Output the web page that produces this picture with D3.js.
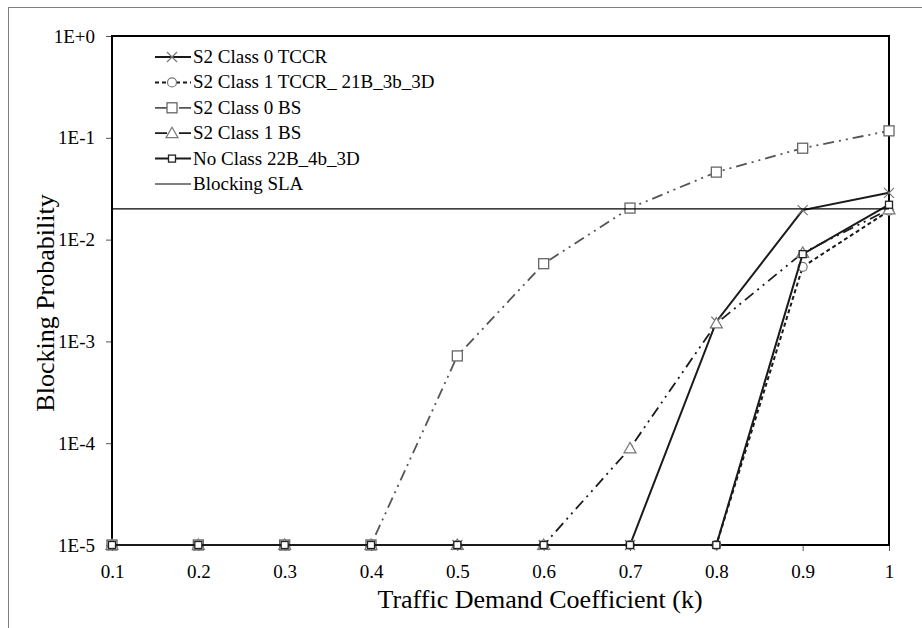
<!DOCTYPE html>
<html>
<head>
<meta charset="utf-8">
<script src="https://cdn.jsdelivr.net/npm/d3@7"></script>
<style>
  body { margin: 0; background: #fff; }
  svg { display: block; font-family: "Liberation Serif", "Times New Roman", serif; }
</style>
</head>
<body>
<div id="chart"></div>
<script>
// data
const kValues = [0.1, 0.2, 0.3, 0.4, 0.5, 0.6, 0.7, 0.8, 0.9, 1.0];
const s2Class0TCCR = [1e-5, 1e-5, 1e-5, 1e-5, 1e-5, 1e-5, 1e-5, 1.56e-3, 0.0195, 0.0288];
const s2Class1TCCR = [1e-5, 1e-5, 1e-5, 1e-5, 1e-5, 1e-5, 1e-5, 1e-5, 5.4e-3, 0.0192];
const s2Class0BS = [1e-5, 1e-5, 1e-5, 1e-5, 7.2e-4, 5.8e-3, 0.0204, 0.046, 0.079, 0.117];
const s2Class1BS = [1e-5, 1e-5, 1e-5, 1e-5, 1e-5, 1e-5, 8.9e-5, 1.5e-3, 7.4e-3, 0.0198];
const noClass = [1e-5, 1e-5, 1e-5, 1e-5, 1e-5, 1e-5, 1e-5, 1e-5, 7.2e-3, 0.022];
const blockingSLA = 0.02;
const yTicks = [1, 1e-1, 1e-2, 1e-3, 1e-4, 1e-5];
const yTickLabels = ["1E+0", "1E-1", "1E-2", "1E-3", "1E-4", "1E-5"];
const xTicks = [0.1, 0.2, 0.3, 0.4, 0.5, 0.6, 0.7, 0.8, 0.9, 1];
const xTickLabels = ["0.1", "0.2", "0.3", "0.4", "0.5", "0.6", "0.7", "0.8", "0.9", "1"];

const seriesNames = ["S2 Class 0 TCCR", "S2 Class 1 TCCR_ 21B_3b_3D", "S2 Class 0  BS", "S2 Class 1 BS", "No Class 22B_4b_3D"];

// drawing styles per series
const series = [
  { name: seriesNames[0], values: s2Class0TCCR, stroke: "#1a1a1a", width: 2, dash: null, marker: "x" },
  { name: seriesNames[1], values: s2Class1TCCR, stroke: "#1a1a1a", width: 2, dash: "4,3", marker: "circle" },
  { name: seriesNames[2], values: s2Class0BS, stroke: "#555", width: 1.8, dash: "11,5,2,5,2,5", marker: "bigsquare" },
  { name: seriesNames[3], values: s2Class1BS, stroke: "#1a1a1a", width: 1.8, dash: "11,5,2,5,2,5", marker: "triangle" },
  { name: seriesNames[4], values: noClass, stroke: "#1a1a1a", width: 2, dash: null, marker: "square" }
];

const W = 922, H = 628;
const margin = { top: 36, right: 33, bottom: 83, left: 112 };
const width = W - margin.left - margin.right;
const height = H - margin.top - margin.bottom;

const svg = d3.select("#chart").append("svg")
  .attr("width", W)
  .attr("height", H);

// outer chart frame
svg.append("rect")
  .attr("x", 8.5).attr("y", 7.5)
  .attr("width", 930).attr("height", 640)
  .attr("fill", "none")
  .attr("stroke", "#7f7f7f")
  .attr("stroke-width", 1);

const g = svg.append("g")
  .attr("transform", `translate(${margin.left},${margin.top})`);

const x = d3.scaleLinear().domain([0.1, 1]).range([0, width]);
const y = d3.scaleLog().domain([1e-5, 1]).range([height, 0]);

// axes
const yAxis = g.append("g")
  .call(d3.axisLeft(y).tickValues(yTicks).tickSize(6).tickPadding(11)
    .tickFormat((d, i) => yTickLabels[i]));
yAxis.select(".domain").remove();
yAxis.selectAll(".tick line").attr("stroke", "#555").attr("stroke-width", 1);
yAxis.selectAll(".tick text")
  .style("font-family", "Liberation Serif")
  .style("font-size", "19px")
  .attr("fill", "#000");

const xAxis = g.append("g")
  .attr("transform", `translate(0,${height})`)
  .call(d3.axisBottom(x).tickValues(xTicks).tickSize(6).tickPadding(14)
    .tickFormat((d, i) => xTickLabels[i]));
xAxis.select(".domain").remove();
xAxis.selectAll(".tick line").attr("stroke", "#555").attr("stroke-width", 1);
xAxis.selectAll(".tick text")
  .style("font-family", "Liberation Serif")
  .style("font-size", "19px")
  .attr("fill", "#000");

// plot frame
g.append("rect")
  .attr("width", width).attr("height", height)
  .attr("fill", "none")
  .attr("stroke", "#000")
  .attr("stroke-width", 2);

// axis titles
svg.append("text")
  .attr("x", 540)
  .attr("y", 608)
  .attr("text-anchor", "middle")
  .style("font-size", "26px")
  .text("Traffic Demand Coefficient (k)");

svg.append("text")
  .attr("transform", "translate(54,303) rotate(-90)")
  .attr("text-anchor", "middle")
  .style("font-size", "26px")
  .text("Blocking Probability");

const line = d3.line()
  .x((d, i) => x(kValues[i]))
  .y(d => y(d));

function drawMarker(sel, type, cx, cy) {
  if (type === "x") {
    sel.append("path")
      .attr("d", `M${cx - 5},${cy - 5}L${cx + 5},${cy + 5}M${cx - 5},${cy + 5}L${cx + 5},${cy - 5}`)
      .attr("stroke", "#777").attr("stroke-width", 1.2).attr("fill", "none");
  } else if (type === "circle") {
    sel.append("circle")
      .attr("cx", cx).attr("cy", cy).attr("r", 4.5)
      .attr("fill", "#fff").attr("stroke", "#777").attr("stroke-width", 1.2);
  } else if (type === "bigsquare") {
    sel.append("rect")
      .attr("x", cx - 5).attr("y", cy - 5).attr("width", 10).attr("height", 10)
      .attr("fill", "#fff").attr("stroke", "#666").attr("stroke-width", 1.3);
  } else if (type === "triangle") {
    sel.append("path")
      .attr("d", `M${cx},${cy - 6}L${cx + 6},${cy + 4.5}L${cx - 6},${cy + 4.5}Z`)
      .attr("fill", "#fff").attr("stroke", "#777").attr("stroke-width", 1.2);
  } else if (type === "square") {
    sel.append("rect")
      .attr("x", cx - 3.5).attr("y", cy - 3.5).attr("width", 7).attr("height", 7)
      .attr("fill", "#fff").attr("stroke", "#222").attr("stroke-width", 1.3);
  }
}

// series lines and markers
series.forEach(s => {
  const sg = g.append("g");
  sg.append("path")
    .datum(s.values)
    .attr("d", line)
    .attr("fill", "none")
    .attr("stroke", s.stroke)
    .attr("stroke-width", s.width)
    .attr("stroke-dasharray", s.dash);
  s.values.forEach((v, i) => drawMarker(sg, s.marker, x(kValues[i]), y(v)));
});

// Blocking SLA line
g.append("line")
  .attr("x1", 0).attr("x2", width)
  .attr("y1", y(blockingSLA)).attr("y2", y(blockingSLA))
  .attr("stroke", "#000")
  .attr("stroke-width", 1.2);

// legend
const legendItems = series.concat([{ name: "Blocking SLA", stroke: "#000", width: 1.2, dash: null, marker: null }]);
const legend = svg.append("g").attr("transform", "translate(155,57)");
legendItems.forEach((s, i) => {
  const row = legend.append("g").attr("transform", `translate(0,${i * 25.4})`);
  row.append("line")
    .attr("x1", 0).attr("x2", 36)
    .attr("stroke", s.stroke)
    .attr("stroke-width", s.width)
    .attr("stroke-dasharray", s.dash ? (s.marker === "circle" ? "4,3" : "12,5,2,5") : null);
  if (s.marker) drawMarker(row, s.marker, 17, 0);
  row.append("text")
    .attr("x", 38).attr("y", 6)
    .style("font-size", "19px")
    .text(s.name);
});
</script>
</body>
</html>
